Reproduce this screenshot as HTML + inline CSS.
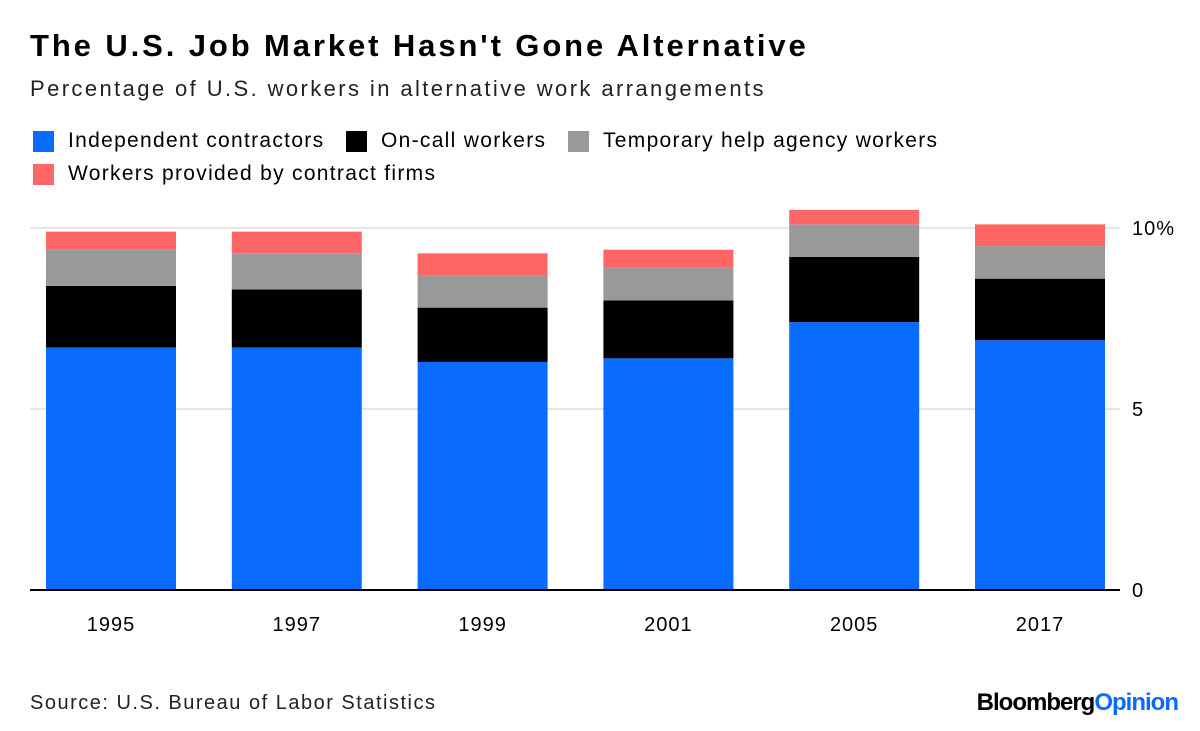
<!DOCTYPE html>
<html><head><meta charset="utf-8"><style>
body{margin:0;width:1200px;height:731px;background:#fff;font-family:"Liberation Sans",sans-serif;overflow:hidden;position:relative}
.t{position:absolute;white-space:nowrap;color:#000}
.sw{position:absolute;width:21px;height:21px}
.lg{font-size:21px;letter-spacing:1.3px}
</style></head><body>
<div class="t" style="left:30px;top:28px;font-size:31px;font-weight:bold;letter-spacing:2.9px">The U.S. Job Market Hasn't Gone Alternative</div>
<div class="t" style="left:30px;top:76px;font-size:22px;color:#222;letter-spacing:2.4px">Percentage of U.S. workers in alternative work arrangements</div>
<div>
<div class="sw" style="left:33px;top:131px;background:#0a6cff"></div>
<div class="t lg" style="left:68px;top:129px">Independent contractors</div>
<div class="sw" style="left:346px;top:131px;background:#000"></div>
<div class="t lg" style="left:381px;top:129px">On-call workers</div>
<div class="sw" style="left:568px;top:131px;background:#999"></div>
<div class="t lg" style="left:603px;top:129px">Temporary help agency workers</div>
<div class="sw" style="left:33px;top:164px;background:#ff6666"></div>
<div class="t lg" style="left:68px;top:162px">Workers provided by contract firms</div>
</div>
<svg id="chart" width="1200" height="731" style="position:absolute;left:0;top:0"></svg>
<div class="t" style="left:30px;top:692px;font-size:20px;color:#222;letter-spacing:1.5px">Source: U.S. Bureau of Labor Statistics</div>
<div class="t" style="right:22px;top:689px;font-size:24px;font-weight:bold;letter-spacing:-1px">Bloomberg<span style="color:#0a6cff">Opinion</span></div>
<script>
const years=["1995","1997","1999","2001","2005","2017"];
const independent=[6.7,6.7,6.3,6.4,7.4,6.9];
const onCall=[1.7,1.6,1.5,1.6,1.8,1.7];
const tempHelp=[1.0,1.0,0.9,0.9,0.9,0.9];
const contractFirms=[0.5,0.6,0.6,0.5,0.4,0.6];
const yTicks=[0,5,10];
const yTickLabels=["0","5","10%"];
const NS="http://www.w3.org/2000/svg";
const svg=document.getElementById('chart');
const y0=590,pxPer=36.2,x0=46,step=185.8,bw=130;
const yS=v=>y0-v*pxPer;
const xS=i=>x0+i*step;
function mk(tag,at){const e=document.createElementNS(NS,tag);for(const k in at)e.setAttribute(k,at[k]);svg.appendChild(e);return e;}
yTicks.forEach((t,i)=>{
 if(t>0){const g=mk('line',{x1:30,x2:1120,y1:yS(t),y2:yS(t),stroke:'#e6e6e6','stroke-width':2});
 
 }
 const l=mk('text',{x:1132,y:yS(t)+7,'font-size':20,'letter-spacing':1,'font-family':'Liberation Sans, sans-serif',fill:'#000'});
 l.textContent=yTickLabels[i];
 
 
});
const series=[[independent,'#0a6cff','independent'],[onCall,'#000','on-call'],[tempHelp,'#999','temp-help'],[contractFirms,'#ff6666','contract-firms']];
years.forEach((yr,i)=>{
 let base=0;
 series.forEach(([arr,c,n])=>{
  const top=base+arr[i];
  const r=mk('rect',{x:xS(i),y:yS(top),width:bw,height:yS(base)-yS(top),fill:c});
  
  
  base=top;
 });
 const l=mk('text',{x:xS(i)+bw/2,y:631,'font-size':20,'letter-spacing':1,'text-anchor':'middle','font-family':'Liberation Sans, sans-serif',fill:'#000'});
 l.textContent=yr;
 
 
});
const ax=mk('line',{x1:30,x2:1120,y1:y0,y2:y0,stroke:'#000','stroke-width':2});


</script>
</body></html>
